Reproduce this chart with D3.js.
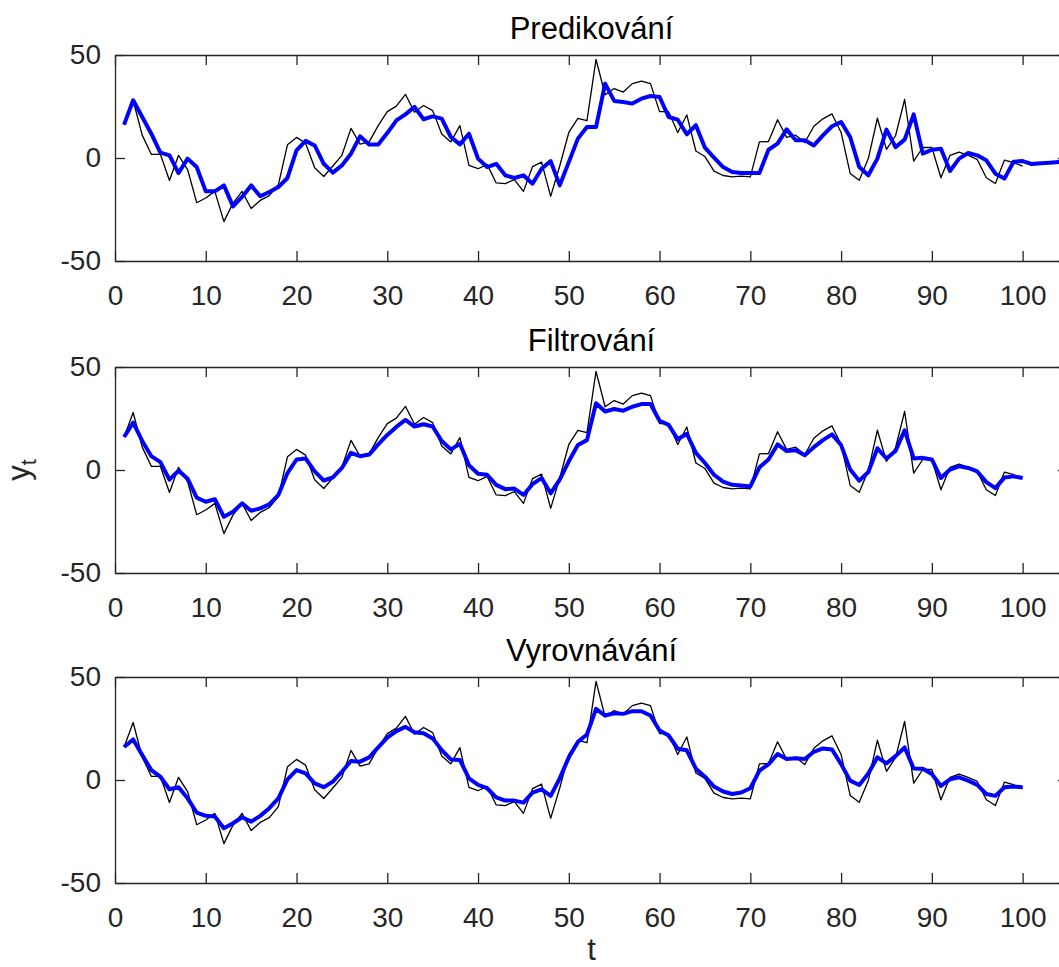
<!DOCTYPE html>
<html>
<head>
<meta charset="utf-8">
<script src="https://cdn.jsdelivr.net/npm/d3@7"></script>
<style>
  body { margin: 0; background: #fff; }
  svg { display: block; font-family: "Liberation Sans", Arial, sans-serif; }
  .axis path, .axis line { stroke: #262626; stroke-width: 1.3; }
  .axis text { fill: #262626; font-size: 28px; }
</style>
</head>
<body>
<svg width="1059" height="967"></svg>
<script>
// observed series y_t, t = 1..100
var observed = [16.0, 27.9, 11.1, 1.8, 1.8, -10.9, 1.3, -5.6, -21.7, -19.4,
  -16.2, -30.9, -21.9, -16.2, -24.5, -20.6, -18.3, -12.9, 6.4, 10.0,
  7.2, -4.7, -9.0, -3.9, 1.3, 14.4, 6.7, 7.8, 15.7, 22.5,
  25.2, 30.9, 22.2, 25.5, 23.0, 11.6, 7.8, 15.7, -3.6, -5.2,
  -3.1, -12.1, -12.4, -10.5, -16.2, -4.2, -2.0, -18.6, -3.9, 12.4,
  19.2, 18.1, 47.9, 30.7, 33.7, 32.0, 36.1, 37.3, 36.1, 22.5,
  22.5, 12.4, 20.9, 3.4, 0.7, -6.4, -8.5, -9.2, -8.8, -9.2,
  7.8, 8.0, 18.6, 10.0, 11.1, 7.5, 15.4, 19.0, 21.4, 12.4,
  -7.5, -10.8, -0.3, 19.3, 4.2, 10.8, 28.4, -1.5, 5.1, 5.1,
  -9.6, 1.3, 2.9, 1.3, -0.7, -9.6, -12.4, -1.0, -2.3, -3.9];

// one-step predictions, t = 1..105
var predicted = [16.2, 28.0, 19.9, 11.8, 2.6, 1.3, -7.3, -0.3, -4.4, -16.2,
  -16.2, -13.3, -23.5, -18.9, -13.3, -18.6, -16.5, -14.1, -9.7, 3.7,
  8.3, 6.1, -2.8, -7.1, -3.6, 2.1, 10.5, 6.6, 6.6, 12.1,
  18.3, 21.2, 24.8, 18.8, 20.2, 19.1, 10.2, 6.6, 11.8, -0.3,
  -4.4, -2.8, -8.4, -9.7, -8.4, -12.5, -5.2, -1.5, -13.3, -2.0,
  9.4, 15.0, 15.0, 36.1, 27.7, 27.2, 26.4, 28.8, 30.1, 29.6,
  19.9, 18.6, 11.5, 15.9, 5.0, 0.2, -4.4, -6.8, -7.3, -7.3,
  -7.3, 4.0, 7.0, 13.9, 8.6, 8.6, 6.1, 11.0, 15.4, 17.5,
  10.2, -4.4, -8.4, -0.3, 13.8, 5.3, 8.9, 21.2, 2.1, 4.0,
  4.5, -6.3, -0.3, 2.4, 1.3, -1.1, -7.6, -10.0, -1.8, -1.5,
  -2.9, -2.6, -2.3, -2.0, -1.8];

// filtered estimates, t = 1..100
var filtered = [16.0, 23.0, 14.1, 6.7, 3.8, -4.7, -0.3, -4.2, -13.4, -15.4,
  -14.2, -22.7, -20.3, -16.2, -19.8, -18.6, -16.7, -12.1, -1.5, 5.1,
  5.6, -0.7, -5.1, -3.6, 1.0, 8.3, 6.7, 7.5, 12.4, 17.0,
  20.9, 24.3, 21.1, 22.2, 21.1, 14.1, 10.0, 12.7, 2.3, -1.8,
  -2.3, -7.2, -9.3, -9.0, -12.1, -6.9, -3.9, -11.3, -4.7, 4.2,
  12.1, 14.5, 32.4, 28.4, 29.6, 28.8, 30.7, 32.0, 32.0, 23.9,
  21.9, 14.9, 17.6, 8.3, 3.4, -2.3, -5.6, -7.2, -7.5, -8.0,
  1.3, 5.1, 12.4, 9.2, 9.6, 7.2, 11.1, 14.5, 17.3, 12.1,
  0.2, -5.2, -1.0, 10.5, 5.6, 9.2, 19.3, 5.6, 5.9, 5.1,
  -3.9, 0.2, 1.8, 1.0, -0.7, -5.9, -8.8, -3.6, -3.1, -3.9];

// smoothed estimates, t = 1..100
var smoothed = [16.0, 19.7, 12.1, 4.8, 1.6, -4.5, -3.5, -8.9, -15.8, -17.4,
  -17.7, -23.4, -21.0, -18.1, -20.2, -17.4, -13.7, -8.9, 0.3, 4.8,
  3.2, -1.6, -3.5, -0.8, 4.0, 9.2, 8.9, 11.0, 15.8, 20.6,
  23.7, 25.8, 23.2, 22.7, 20.2, 14.5, 10.0, 9.7, 0.8, -2.4,
  -4.0, -8.4, -10.0, -10.0, -11.0, -6.1, -4.5, -7.7, 0.8, 11.0,
  18.5, 22.1, 34.5, 31.3, 32.4, 32.1, 33.4, 33.4, 31.3, 24.0,
  21.6, 15.2, 14.4, 5.5, 1.6, -3.2, -5.6, -6.8, -6.1, -4.0,
  4.5, 7.6, 12.6, 10.2, 10.6, 10.2, 13.7, 15.3, 14.8, 7.7,
  -0.3, -2.4, 3.2, 11.0, 8.1, 11.6, 15.8, 5.6, 5.5, 2.9,
  -2.9, 0.3, 1.3, -0.3, -2.4, -6.8, -7.7, -3.5, -3.2, -3.5];

var titles = ["Predikování", "Filtrování", "Vyrovnávání"];
var estimates = [predicted, filtered, smoothed];
var xTicks = [0, 10, 20, 30, 40, 50, 60, 70, 80, 90, 100];
var yTicks = [-50, 0, 50];

var svg = d3.select("svg");

// layout of the three subplots
var left = 115, right = 1068;
var tops = [55, 367, 677], plotH = 206;

var x = d3.scaleLinear().domain([0, 105]).range([left, right]);

// plain hyphen minus like matlab
var plain = function(d) { return String(d); };

tops.forEach(function(top, k) {
    var y = d3.scaleLinear().domain([-50, 50]).range([top + plotH, top]);
    var g = svg.append("g");

    // box with inward ticks on all four sides
    g.append("g").attr("class", "axis")
        .attr("transform", "translate(0," + (top + plotH) + ")")
        .call(d3.axisBottom(x).tickValues(xTicks).tickFormat(plain).tickSizeInner(-10).tickSizeOuter(0).tickPadding(24));
    g.append("g").attr("class", "axis")
        .attr("transform", "translate(0," + top + ")")
        .call(d3.axisTop(x).tickValues(xTicks).tickSizeInner(-10).tickSizeOuter(0).tickFormat(""));
    g.append("g").attr("class", "axis")
        .attr("transform", "translate(" + left + ",0)")
        .call(d3.axisLeft(y).tickValues(yTicks).tickFormat(plain).tickSizeInner(-10).tickSizeOuter(0).tickPadding(14));
    g.append("g").attr("class", "axis")
        .attr("transform", "translate(" + right + ",0)")
        .call(d3.axisRight(y).tickValues(yTicks).tickSizeInner(-10).tickSizeOuter(0).tickFormat(""));
    g.selectAll(".axis text").attr("font-family", null);

    var ln = d3.line()
        .x(function(d, i) { return x(i + 1); })
        .y(function(d) { return y(d); });

    // observed data (thin black)
    g.append("path")
        .attr("d", ln(observed))
        .attr("fill", "none")
        .attr("stroke", "#000")
        .attr("stroke-width", 1.3)
        .attr("stroke-linejoin", "round");

    // estimate (thick blue)
    g.append("path")
        .attr("d", ln(estimates[k]))
        .attr("fill", "none")
        .attr("stroke", "#0000ff")
        .attr("stroke-width", 4)
        .attr("stroke-linejoin", "round");

    g.append("text")
        .attr("x", (left + right) / 2)
        .attr("y", top - 16)
        .attr("text-anchor", "middle")
        .attr("font-size", 31)
        .attr("fill", "#000")
        .text(titles[k]);
});

// axis labels
svg.append("text")
    .attr("x", (left + right) / 2)
    .attr("y", 960)
    .attr("text-anchor", "middle")
    .attr("font-size", 31)
    .attr("fill", "#262626")
    .text("t");

var yl = svg.append("text")
    .attr("transform", "translate(29," + (tops[1] + plotH / 2) + ") rotate(-90)")
    .attr("text-anchor", "middle")
    .attr("font-size", 31)
    .attr("fill", "#262626");
yl.append("tspan").text("y");
yl.append("tspan").attr("font-size", 22).attr("dy", "0.3em").text("t");
</script>
</body>
</html>
